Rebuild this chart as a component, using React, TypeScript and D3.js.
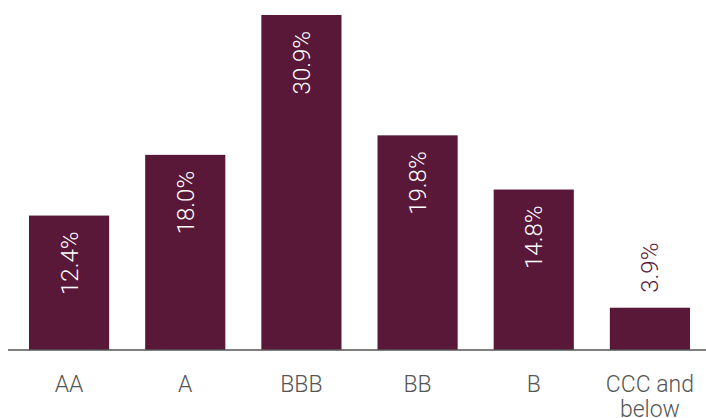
import React from "react";
import * as d3 from "d3";

const categories = ["AA", "A", "BBB", "BB", "B", "CCC and below"];
const values = [12.4, 18.0, 30.9, 19.8, 14.8, 3.9];
const labels = ["12.4%", "18.0%", "30.9%", "19.8%", "14.8%", "3.9%"];

const W = 706;
const H = 418;
const baseY = 350;
const BAR = "#5a1839";
const FONT = "Roboto, 'Noto Sans', sans-serif";

export default function App() {
  const x = d3.scaleBand<string>().domain(categories).range([11, 708]).paddingInner(0.31).paddingOuter(0.155);
  const y = d3.scaleLinear().domain([0, 30.9]).range([baseY, 15]);
  return (
    <svg width={W} height={H} style={{ position: "absolute", left: 0, top: 0 }}>
      {categories.map((c, i) => {
        const x0 = x(c)!;
        const bw = x.bandwidth();
        const top = y(values[i]);
        const inside = baseY - top > 90;
        const cx = x0 + bw / 2;
        const ty = inside ? top + 16 : top - 15;
        return (
          <g key={c}>
            <rect x={x0} y={top} width={bw} height={baseY - top} fill={BAR} />
            <text
              transform={`translate(${cx + 8.5},${ty}) rotate(-90)`}
              textAnchor={inside ? "end" : "start"}
              fontFamily={FONT}
              fontWeight={300}
              fontSize={24}
              fill={inside ? "#ffffff" : BAR}
            >
              {labels[i]}
            </text>
          </g>
        );
      })}
      <line x1={8} x2={706} y1={baseY} y2={baseY} stroke="#555" strokeWidth={1.5} />
      {categories.map((c) => {
        const cx = x(c)! + x.bandwidth() / 2;
        const words = c === "CCC and below" ? ["CCC and", "below"] : [c];
        return (
          <text key={c} textAnchor="middle" fontFamily={FONT} fontWeight={300} fontSize={23} fill="#555">
            {words.map((w, j) => (
              <tspan key={j} x={cx} y={392 + j * 25}>
                {w}
              </tspan>
            ))}
          </text>
        );
      })}
    </svg>
  );
}
